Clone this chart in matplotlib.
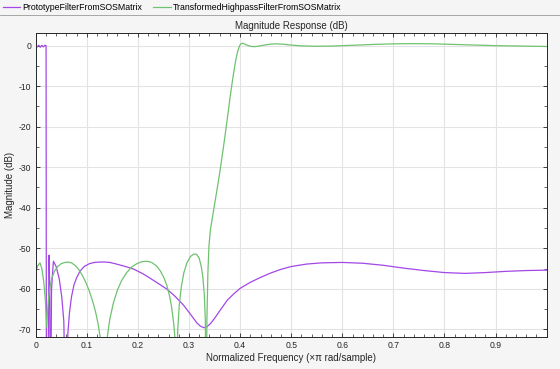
import numpy as np
import matplotlib
matplotlib.use("Agg")
import matplotlib.pyplot as plt
from matplotlib.lines import Line2D
from matplotlib.ticker import MultipleLocator

plt.rcParams['font.family'] = ['Liberation Sans', 'DejaVu Sans']
plt.rcParams['axes.unicode_minus'] = False

# Prototype lowpass (purple)
proto_f = [0, 0.003, 0.006, 0.009, 0.012, 0.015, 0.018, 0.0203, 0.021, 0.0235,
           0.0255, 0.0262, 0.0275, 0.029, 0.031, 0.0346, 0.040, 0.046, 0.051,
           0.055, 0.059, 0.061, 0.063, 0.066, 0.070, 0.075, 0.080, 0.087, 0.095,
           0.105, 0.115, 0.125, 0.135, 0.145, 0.155, 0.170, 0.191, 0.210, 0.224,
           0.240, 0.257, 0.273, 0.289, 0.300, 0.310, 0.316, 0.322, 0.329, 0.335,
           0.342, 0.350, 0.361, 0.375, 0.388, 0.40, 0.42, 0.44, 0.46, 0.48, 0.50,
           0.53, 0.56, 0.60, 0.64, 0.68, 0.72, 0.76, 0.80, 0.84, 0.88, 0.92, 0.96, 1.0]
proto_db = [0, -0.3, 0.1, -0.4, 0.1, -0.3, 0.1, 0, -95, -95,
            -60, -51.7, -60, -95, -60, -53.2, -54.5, -57.5, -62,
            -68, -95, -78, -71, -66, -62, -59, -57.3, -55.6, -54.5,
            -53.8, -53.5, -53.4, -53.4, -53.5, -53.8, -54.3, -55.1, -56.3, -57.4,
            -58.7, -60.1, -61.9, -64.0, -65.8, -67.5, -68.5, -69.2, -69.6, -69.4,
            -68.6, -67.3, -65.3, -62.8, -61.2, -59.9, -58.4, -57.2, -56.1, -55.2, -54.5,
            -53.9, -53.6, -53.5, -53.7, -54.2, -54.9, -55.5, -56.0, -56.2, -56.0, -55.7, -55.5, -55.4]

# Transformed highpass (green)
hp_f = [0, 0.004, 0.0084, 0.012, 0.016, 0.019, 0.0216,
        0.023, 0.025, 0.028, 0.032, 0.037, 0.043, 0.050, 0.057, 0.063, 0.070,
        0.077, 0.084, 0.091, 0.098, 0.105, 0.111, 0.117, 0.122, 0.126, 0.129, 0.133,
        0.136, 0.140, 0.145, 0.152, 0.160, 0.168, 0.178, 0.188, 0.198, 0.208,
        0.218, 0.227, 0.236, 0.244, 0.251, 0.257, 0.262, 0.266, 0.270, 0.2725, 0.2745,
        0.2765, 0.278, 0.281, 0.285, 0.290, 0.296, 0.303, 0.310, 0.315, 0.320,
        0.324, 0.327, 0.330, 0.332, 0.3335,
        0.335, 0.337, 0.339, 0.342, 0.352, 0.360, 0.368, 0.375, 0.381, 0.386,
        0.391, 0.395, 0.399, 0.402, 0.405, 0.409, 0.414, 0.420, 0.427, 0.435,
        0.445, 0.458, 0.470, 0.485, 0.50, 0.52, 0.55, 0.58, 0.62, 0.66, 0.70,
        0.74, 0.78, 0.82, 0.86, 0.90, 0.95, 1.0]
hp_db = [-55.8, -54.3, -53.6, -55.0, -58.5, -63, -69.5,
         -66, -62.5, -59.5, -57.2, -55.6, -54.5, -53.8, -53.5, -53.4, -53.6,
         -54.2, -55.2, -56.6, -58.4, -60.6, -62.9, -65.6, -68.6, -71.8, -76, -95,
         -80, -72, -67.5, -63.5, -60.3, -58, -56, -54.6, -53.8, -53.3,
         -53.2, -53.5, -54.3, -55.6, -57.3, -59.3, -61.8, -64.5, -68.5, -72, -95,
         -80, -70, -64, -59.5, -56, -53.6, -52.0, -51.4, -51.5, -52.5,
         -54.5, -57, -61.5, -68, -95,
         -68, -56, -49.5, -45.3, -37.7, -31.5, -24.5, -18, -12.2, -7.8,
         -3.9, -1.5, 0.0, 0.5, 0.6, 0.4, 0.1, -0.15, -0.25, -0.15,
         0.1, 0.35, 0.45, 0.35, 0.15, -0.05, -0.15, -0.1, 0.1, 0.3, 0.45,
         0.5, 0.45, 0.3, 0.15, 0.0, -0.1, -0.2]

purple = '#a347e6'
green = '#6fc26f'
dark = '#262626'

fig = plt.figure(figsize=(5.6, 3.69), dpi=100, facecolor='#f5f5f5')
ax = fig.add_axes([35.7 / 560, 32 / 369, 511 / 560, 304.3 / 369])
ax.set_facecolor('white')

ax.plot(proto_f, proto_db, color=purple, lw=0.9)
ax.plot(hp_f, hp_db, color=green, lw=0.9)

ax.set_xlim(0, 1.0)
ax.set_ylim(-71.9, 3.2)
ax.xaxis.set_minor_locator(MultipleLocator(0.02))
ax.yaxis.set_major_locator(MultipleLocator(10))
ax.yaxis.set_minor_locator(MultipleLocator(5))
ax.set_xticks(np.arange(0, 0.95, 0.1))
ax.set_xticklabels(['0'] + [f'{v:.1f}' for v in np.arange(0.1, 0.95, 0.1)])
ax.grid(True, which='major', color='#e3e3e3', lw=0.8)
ax.set_axisbelow(True)
ax.tick_params(which='both', direction='in', top=True, right=True,
               colors=dark, labelsize=6.2, pad=3)
ax.tick_params(which='major', length=3, width=0.6)
ax.tick_params(which='minor', length=2, width=0.5)
for s in ax.spines.values():
    s.set_color(dark)
    s.set_linewidth(0.7)

ax.set_title('Magnitude Response (dB)', fontsize=7, color=dark, pad=3)
ax.set_xlabel('Normalized Frequency (\u00d7\u03c0 rad/sample)', fontsize=7,
              color=dark, labelpad=2)
ax.set_ylabel('Magnitude (dB)', fontsize=7, color=dark, labelpad=3)

handles = [Line2D([], [], color=purple, lw=0.9), Line2D([], [], color=green, lw=0.9)]
fig.legend(handles, ['PrototypeFilterFromSOSMatrix', 'TransformedHighpassFilterFromSOSMatrix'],
           loc='upper left', bbox_to_anchor=(0.0, 1.0), ncol=2, frameon=False,
           fontsize=6.3, handlelength=2.0, handletextpad=0.2, columnspacing=1.3,
           borderaxespad=0.1, borderpad=0.2)
fig.add_artist(Line2D([0, 1], [1 - 15 / 369, 1 - 15 / 369], color='#9a9a9a', lw=0.6,
                      transform=fig.transFigure))

fig.savefig('out.png', dpi=100, facecolor=fig.get_facecolor())
